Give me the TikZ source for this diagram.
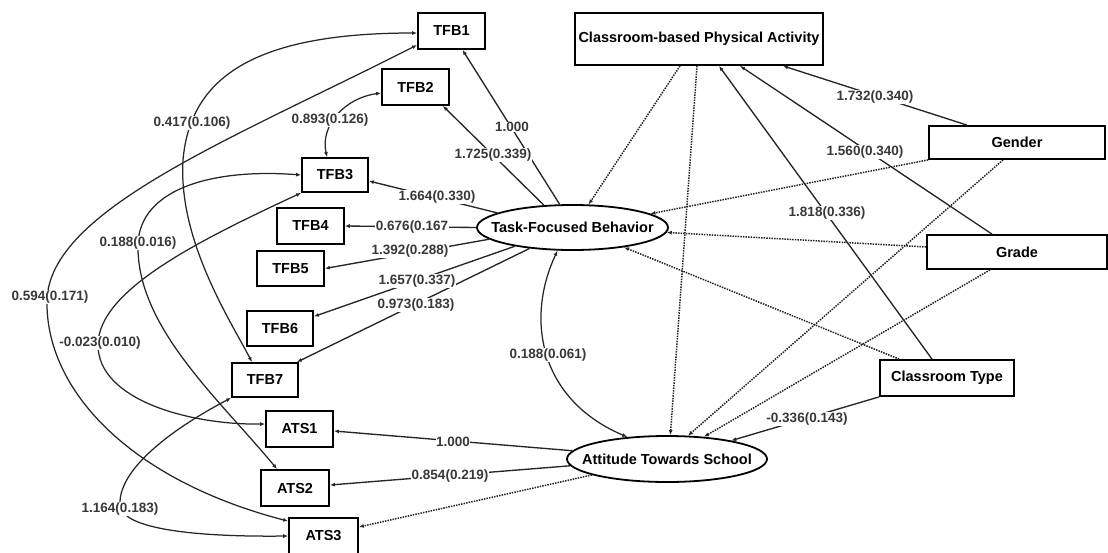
\documentclass[tikz,border=0pt]{standalone}
\usepackage{fontspec}
\setmainfont{Liberation Sans}
\usetikzlibrary{arrows.meta,shapes.geometric}
\begin{document}
\begin{tikzpicture}[x=1pt,y=-1pt,
  obs/.style={draw=black, line width=1.8pt, rectangle, inner sep=0pt, fill=white,
    minimum width=67pt, minimum height=36pt, font=\fontsize{14.5}{16}\selectfont\bfseries},
  latent/.style={draw=black, line width=1.8pt, ellipse, inner sep=0pt, fill=white,
    font=\fontsize{14.5}{16}\selectfont\bfseries},
  tip/.tip={Latex[length=5pt,width=4pt]},
  reg/.style={line width=1.35pt, draw=black!85, -tip},
  regns/.style={reg, line width=1.5pt, dash pattern=on 1.5pt off 1.1pt},
  cov/.style={line width=1.25pt, draw=black!85, tip-tip},
  lbl/.style={fill=white, inner sep=0.6pt, text=black!78,
    font=\fontsize{13.5}{15}\selectfont\bfseries}
]
\useasboundingbox (0,0) rectangle (1108,552);

% observed indicators
\node[obs] (tfb1) at (451.5,31) {TFB1};
\node[obs] (tfb2) at (415.5,87) {TFB2};
\node[obs, minimum width=66pt, minimum height=34pt] (tfb3) at (335,175) {TFB3};
\node[obs] (tfb4) at (310.5,226) {TFB4};
\node[obs, minimum height=35pt] (tfb5) at (290.5,268.5) {TFB5};
\node[obs, minimum width=66pt, minimum height=35pt] (tfb6) at (280,328.5) {TFB6};
\node[obs, minimum width=66pt, minimum height=34pt] (tfb7) at (265,380) {TFB7};
\node[obs] (ats1) at (299.5,429) {ATS1};
\node[obs, minimum width=68pt] (ats2) at (295,488) {ATS2};
\node[obs, minimum width=69pt] (ats3) at (323.5,536) {ATS3};

% predictors
\node[obs, minimum width=248pt, minimum height=52pt] (cpa) at (699,39) {Classroom-based Physical Activity};
\node[obs, minimum width=176pt, minimum height=33pt] (gender) at (1017,142.5) {Gender};
\node[obs, minimum width=180pt, minimum height=34pt] (grade) at (1017,252) {Grade};
\node[obs, minimum width=134pt, minimum height=36pt] (ctype) at (947,378) {Classroom Type};

% latent factors
\node[latent, minimum width=191pt, minimum height=45pt] (tfb) at (572.5,227.5) {\makebox[0pt]{Task-Focused Behavior}};
\node[latent, minimum width=200pt, minimum height=46pt] (ats) at (667,459) {\makebox[0pt]{Attitude Towards School}};

% loadings of Task-Focused Behavior
\draw[reg] (tfb.119) -- ([xshift=11pt]tfb1.south);
\draw[reg] (tfb.142) -- ([xshift=-7pt]tfb2.south east);
\draw[reg] (tfb.169) -- ([yshift=-6pt]tfb3.east);
\draw[reg] (tfb.west) -- (tfb4.east);
\draw[reg] (tfb.188) -- (tfb5.east);
\draw[reg] (tfb.198) -- ([yshift=12pt]tfb6.east);
\draw[reg] (tfb.206) -- ([xshift=-2pt]tfb7.north east);

% loadings of Attitude Towards School
\draw[reg] (ats.175) -- ([yshift=-2pt]ats1.east);
\draw[reg] (ats.184) -- ([yshift=3pt]ats2.east);
\draw[regns] (ats.192) -- ([yshift=9pt]ats3.east);

% residual covariances
\draw[cov] ([yshift=-2pt]tfb1.west) .. controls (250,33) and (190,80) .. (183,160)
  .. controls (178,240) and (230,320) .. ([xshift=-13pt]tfb7.north);
\draw[cov] ([yshift=-14pt]tfb1.west) .. controls (230,140) and (50,210) .. (47,300)
  .. controls (45,390) and (130,480) .. ([yshift=-4pt]ats3.north west);
\draw[cov] ([yshift=-6pt]tfb2.west) .. controls (345,98) and (320,125) .. ([xshift=-8pt]tfb3.north);
\draw[cov] (tfb3.west) .. controls (210,168) and (135,190) .. (138,250)
  .. controls (140,330) and (220,400) .. ([xshift=-18pt]ats2.north);
\draw[cov] (tfb3.south west) .. controls (200,240) and (98,290) .. (98,345)
  .. controls (98,400) and (190,425) .. ([yshift=5pt]ats1.west);
\draw[cov] (tfb7.south west) .. controls (170,430) and (118,470) .. (120,505)
  .. controls (122,530) and (200,537) .. (ats3.west);
\draw[cov] (tfb.237) .. controls (525,320) and (540,400) .. (ats.151);

% structural paths
\draw[reg] ([xshift=-50pt]gender.north) -- ([xshift=84pt]cpa.south);
\draw[reg] ([xshift=-25pt]grade.north) -- ([xshift=41pt]cpa.south);
\draw[reg] ([xshift=-15pt]ctype.north) -- ([xshift=20pt]cpa.south);
\draw[reg] (ctype.south west) -- (ats.16);
\draw[regns] ([xshift=-19pt]cpa.south) -- (tfb.55);
\draw[regns] ([xshift=-2pt]cpa.south) -- (ats.82);
\draw[regns] (gender.south west) -- (tfb.10);
\draw[regns] ([yshift=5pt]grade.west) -- (tfb.357);
\draw[regns] ([xshift=-14pt]gender.south) -- (ats.48);
\draw[regns] ([xshift=-27pt]grade.south) -- (ats.31);
\draw[regns] ([xshift=20pt]ctype.north west) -- (tfb.339);

% estimates (standard errors)
\node[lbl] (l1) at (512,127) {1.000};
\node[lbl] (l2) at (493,155) {1.725(0.339)};
\node[lbl] (l3) at (437,197) {1.664(0.330)};
\node[lbl] (l4) at (412,227) {0.676(0.167};
\node[lbl] (l5) at (410,251) {1.392(0.288)};
\node[lbl] (l6) at (417,281) {1.657(0.337)};
\node[lbl] (l7) at (416,305) {0.973(0.183)};
\node[lbl] (l8) at (192,123) {0.417(0.106)};
\node[lbl] (l9) at (330,120) {0.893(0.126)};
\node[lbl] (l10) at (138,243) {0.188(0.016)};
\node[lbl] (l11) at (50,297) {0.594(0.171)};
\node[lbl] (l12) at (100,343) {-0.023(0.010)};
\node[lbl] (l13) at (120,509) {1.164(0.183)};
\node[lbl] (l14) at (548,355) {0.188(0.061)};
\node[lbl] (l15) at (453,442) {1.000};
\node[lbl] (l16) at (450,476) {0.854(0.219)};
\node[lbl] (l17) at (875,97) {1.732(0.340)};
\node[lbl] (l18) at (865,152) {1.560(0.340)};
\node[lbl] (l19) at (827,213) {1.818(0.336)};
\node[lbl] (l20) at (807,419) {-0.336(0.143)};
\end{tikzpicture}
\end{document}
